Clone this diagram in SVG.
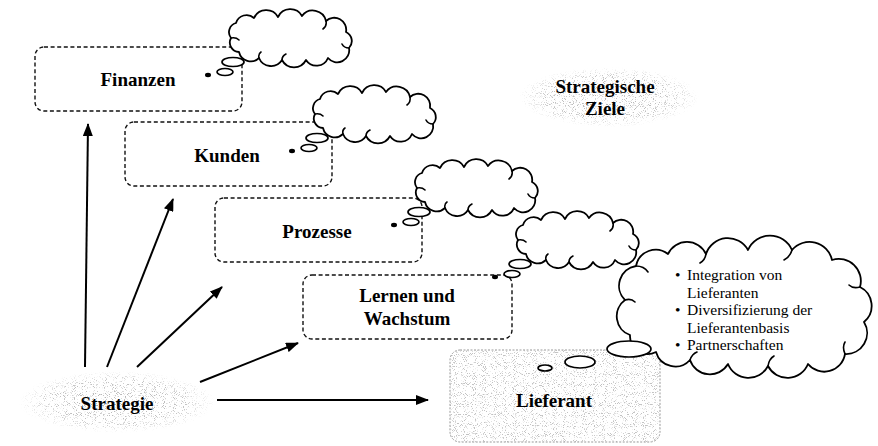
<svg xmlns="http://www.w3.org/2000/svg" xmlns:xlink="http://www.w3.org/1999/xlink" width="878" height="446" viewBox="0 0 878 446">
<style>
.box{fill:none;stroke:#111;stroke-width:1.4;stroke-dasharray:4 2.6}
.cl{fill:#fff;stroke:#000;stroke-width:1.8;stroke-linejoin:round}
.tick{fill:none;stroke:#000;stroke-width:1.6;stroke-linecap:round}
.bub{fill:#fff;stroke:#000;stroke-width:1.7}
.lbl{font-family:"Liberation Serif","Times New Roman",serif;font-weight:bold;font-size:19px;fill:#000;text-anchor:middle}
.lst{font-family:"Liberation Serif","Times New Roman",serif;font-size:15.5px;fill:#000}
.arr{stroke:#000;stroke-width:2;fill:none;marker-end:url(#ah)}
</style>
<defs>
<marker id="ah" markerUnits="userSpaceOnUse" markerWidth="13" markerHeight="10" refX="12" refY="5" orient="auto">
<path d="M0,0 L13,5 L0,10 z" fill="#000"/>
</marker>
<filter id="stip" x="-5%" y="-5%" width="110%" height="110%">
<feTurbulence type="fractalNoise" baseFrequency="1.1" numOctaves="1" seed="7" result="n"/>
<feColorMatrix in="n" type="matrix" values="0 0 0 0 0.45  0 0 0 0 0.45  0 0 0 0 0.45  -8 0 0 0 3.45" result="d"/>
<feComposite in="d" in2="SourceGraphic" operator="in"/>
</filter>
<radialGradient id="fade">
<stop offset="0" stop-color="#000" stop-opacity="1"/>
<stop offset="0.7" stop-color="#000" stop-opacity="0.8"/>
<stop offset="1" stop-color="#000" stop-opacity="0"/>
</radialGradient>
<g id="cloud">
<path class="cl" d="M9,30 A9.5,9.5 0 0 1 14,15 A11,11 0 0 1 32,10 A13.5,13.5 0 0 1 56,9 A13.5,13.5 0 0 1 80,8 A13.5,13.5 0 0 1 104,13 A12,12 0 0 1 124,24 A10,10 0 0 1 127,40 A12,12 0 0 1 106,50 A12.5,12.5 0 0 1 84,52 A13.5,13.5 0 0 1 60,52 A13,13 0 0 1 37,50 A12,12 0 0 1 17,44 A9.5,9.5 0 0 1 9,30 Z"/>
<path class="tick" d="M9,30 q5,-1 8,2 M104,13 q1,5 -3,8 M127,40 q-5,0 -7,-4 M60,52 q0,-4 4,-6 M37,50 q-1,-4 2,-6"/>
<ellipse class="bub" cx="11" cy="54" rx="11" ry="4.5"/>
<ellipse class="bub" cx="3" cy="64" rx="8" ry="3.5"/>
<ellipse cx="-14" cy="67" rx="3" ry="2.2" fill="#000"/>
</g>
</defs>
<rect width="878" height="446" fill="#fff"/>

<g id="strategische-ziele">
<ellipse cx="609" cy="97" rx="90" ry="30" fill="url(#fade)" filter="url(#stip)"/>
<text class="lbl" x="605" y="93">Strategische</text>
<text class="lbl" x="605" y="115">Ziele</text>
</g>

<g id="finanzen">
<rect class="box" x="35" y="47" width="207" height="64" rx="9"/>
<text class="lbl" x="138" y="86">Finanzen</text>
<use xlink:href="#cloud" href="#cloud" transform="translate(222,8)"/>
</g>

<g id="kunden">
<rect class="box" x="125" y="122" width="207" height="64" rx="9"/>
<text class="lbl" x="227" y="162">Kunden</text>
<use xlink:href="#cloud" href="#cloud" transform="translate(306,84)"/>
</g>

<g id="prozesse">
<rect class="box" x="215" y="198" width="207" height="64" rx="9"/>
<text class="lbl" x="317" y="238">Prozesse</text>
<use xlink:href="#cloud" href="#cloud" transform="translate(408,158)"/>
</g>

<g id="lernen">
<rect class="box" x="303" y="275" width="209" height="64" rx="9"/>
<text class="lbl" x="407" y="302">Lernen und</text>
<text class="lbl" x="407" y="325">Wachstum</text>
<use xlink:href="#cloud" href="#cloud" transform="translate(509,210)"/>
</g>

<g id="lieferant">
<rect x="450" y="350" width="210" height="92" rx="10" fill="#000" fill-opacity="0.8" filter="url(#stip)"/>
<rect x="450" y="350" width="210" height="92" rx="10" fill="none" stroke="#999" stroke-width="1" stroke-dasharray="2 1.5"/>
<text class="lbl" x="554" y="407">Lieferant</text>
<path class="cl" d="M630,335 A20,20 0 0 1 625,300 A20,20 0 0 1 636,266 A20,20 0 0 1 668,254 A21,21 0 0 1 706,254 A23,23 0 0 1 748,250 A24,24 0 0 1 792,250 A23,23 0 0 1 832,260 A22,22 0 0 1 860,287 A21,21 0 0 1 864,322 A21,21 0 0 1 845,354 A21,21 0 0 1 808,364 A22,22 0 0 1 768,366 A22,22 0 0 1 728,364 A21,21 0 0 1 690,360 A20,20 0 0 1 656,352 A18,18 0 0 1 630,335 Z"/>
<path class="tick" d="M636,266 q8,0 12,6 M706,254 q-1,6 -6,9 M792,250 q-2,7 -8,10 M860,287 q-7,2 -11,-2 M845,354 q-3,-7 0,-12 M768,366 q1,-7 6,-10 M690,360 q2,-6 7,-8 M625,300 q6,-2 10,2"/>
<ellipse class="bub" cx="629" cy="349" rx="22" ry="8"/>
<ellipse class="bub" cx="580" cy="362" rx="15" ry="6"/>
<ellipse class="bub" cx="545" cy="368" rx="7" ry="3"/>
<text class="lst" x="675" y="280">•</text><text class="lst" x="687" y="280">Integration von</text>
<text class="lst" x="687" y="297.5">Lieferanten</text>
<text class="lst" x="675" y="315">•</text><text class="lst" x="687" y="315">Diversifizierung der</text>
<text class="lst" x="687" y="332.5">Lieferantenbasis</text>
<text class="lst" x="675" y="350">•</text><text class="lst" x="687" y="350">Partnerschaften</text>
</g>

<g id="strategie">
<ellipse cx="117" cy="402" rx="98" ry="31" fill="url(#fade)" filter="url(#stip)"/>
<text class="lbl" x="117" y="410">Strategie</text>
</g>

<g id="connectors">
<line class="arr" x1="85" y1="367" x2="88" y2="124"/>
<line class="arr" x1="107" y1="367" x2="173" y2="199"/>
<line class="arr" x1="137" y1="367" x2="222" y2="287"/>
<line class="arr" x1="200" y1="382" x2="298" y2="343"/>
<line class="arr" x1="217" y1="400" x2="428" y2="400"/>
</g>
</svg>
